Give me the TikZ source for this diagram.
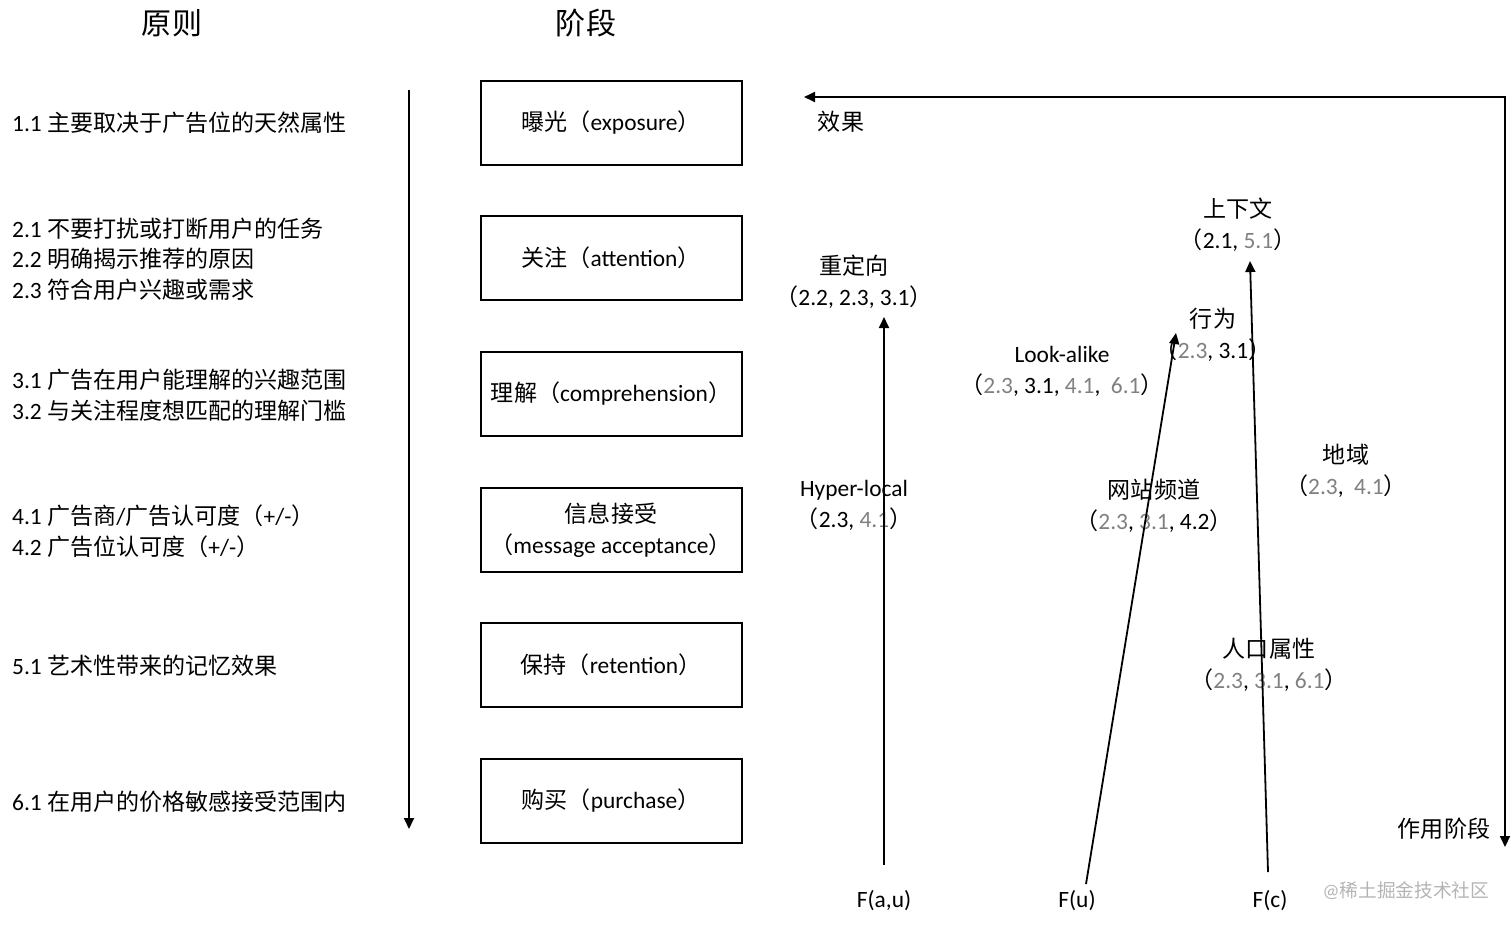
\documentclass[tikz,border=0pt]{standalone}
\usepackage{fontspec}
\setmainfont{Carlito}
\newfontfamily\cjkfont[Scale=0.985]{Noto Sans CJK SC}
\newcommand\zh[1]{{\cjkfont #1}}
\usetikzlibrary{arrows.meta}
\definecolor{gry}{HTML}{808080}
\definecolor{wm}{HTML}{B4B4B4}
\newcommand\g[1]{{\color{gry}#1}}
\begin{document}
\begin{tikzpicture}[x=1pt,y=-1pt,
  every node/.style={inner sep=0pt, font=\fontsize{23.4}{26}\selectfont},
  title/.style={font=\fontsize{30.5}{34}\selectfont},
  rule/.style={anchor=west, align=left, font=\fontsize{23.4}{30.5}\selectfont},
  stage/.style={draw, line width=2pt, minimum width=261pt, minimum height=84pt, align=center, font=\fontsize{23.4}{31}\selectfont},
  lbl/.style={align=center, font=\fontsize{23.4}{31}\selectfont},
  tip/.tip={Triangle[length=11pt,width=10pt]},
  arr/.style={line width=1.8pt, -tip},
]
\useasboundingbox (0,0) rectangle (1512,927);

% titles
\node[title] (tp) at (172,23) {\zh{原则}};
\node[title] (ts) at (586,23) {\zh{阶段}};

% principles
\node[rule] (p1) at (12,123) {1.1 \zh{主要取决于广告位的天然属性}};
\node[rule] (p2) at (12,259) {2.1 \zh{不要打扰或打断用户的任务}\\2.2 \zh{明确揭示推荐的原因}\\2.3 \zh{符合用户兴趣或需求}};
\node[rule] (p3) at (12,395) {3.1 \zh{广告在用户能理解的兴趣范围}\\3.2 \zh{与关注程度想匹配的理解门槛}};
\node[rule] (p4) at (12,531) {4.1 \zh{广告商}/\zh{广告认可度（}+/-\zh{）}\\4.2 \zh{广告位认可度（}+/-\zh{）}};
\node[rule] (p5) at (12,666) {5.1 \zh{艺术性带来的记忆效果}};
\node[rule] (p6) at (12,802) {6.1 \zh{在用户的价格敏感接受范围内}};

\coordinate (la) at (409,90);
\coordinate (lb) at (409,829);
\draw[arr] (la) -- (lb);

% stages
\node[stage] (s1) at (611,123) {\zh{曝光（}exposure\zh{）}};
\node[stage] (s2) at (611,258) {\zh{关注（}attention\zh{）}};
\node[stage] (s3) at (611,394) {\zh{理解（}comprehension\zh{）}};
\node[stage] (s4) at (611,530) {\zh{信息接受}\\\zh{（}message acceptance\zh{）}};
\node[stage] (s5) at (611,665) {\zh{保持（}retention\zh{）}};
\node[stage] (s6) at (611,801) {\zh{购买（}purchase\zh{）}};

% feedback arrow
\coordinate (fa) at (804,97);
\coordinate (fb) at (1505,97);
\coordinate (fc) at (1505,847);
\draw[line width=1.8pt, tip-tip] (fa) -- (fb) -- (fc);
\node (eff) at (841,122) {\zh{效果}};
\node (act) at (1444,829) {\zh{作用阶段}};

% labels
\node[lbl] (rt) at (854,282) {\zh{重定向}\\\zh{（}2.2, 2.3, 3.1\zh{）}};
\node[lbl] (ctx) at (1238,225) {\zh{上下文}\\\zh{（}2.1, \g{5.1}\zh{）}};
\node[lbl] (beh) at (1213,335) {\zh{行为}\\\zh{（}\g{2.3}, 3.1\zh{）}};
\node[lbl] (look) at (1062,371) {Look-alike\\\zh{（}\g{2.3}, 3.1, \g{4.1},\ \ \g{6.1}\zh{）}};
\node[lbl] (hyp) at (854,505) {Hyper-local\\\zh{（}2.3, \g{4.1}\zh{）}};
\node[lbl] (web) at (1154,506) {\zh{网站频道}\\\zh{（}\g{2.3}, \g{3.1}, 4.2\zh{）}};
\node[lbl] (geo) at (1346,471) {\zh{地域}\\\zh{（}\g{2.3},\ \ \g{4.1}\zh{）}};
\node[lbl] (dem) at (1269,665) {\zh{人口属性}\\\zh{（}\g{2.3}, \g{3.1}, \g{6.1}\zh{）}};

% factors
\node (fau) at (884,901) {F(a,u)};
\node (fu) at (1077,901) {F(u)};
\node (fcx) at (1270,901) {F(c)};

\coordinate (a1) at (884,865);
\coordinate (a2) at (884,317);
\coordinate (b1) at (1086,884);
\coordinate (b2) at (1176,333);
\coordinate (c1) at (1268,872);
\coordinate (c2) at (1250,261);
\draw[arr] (a1) -- (a2);
\draw[arr] (b1) -- (b2);
\draw[arr] (c1) -- (c2);

\node[text=wm, font=\fontsize{19}{20}\selectfont] (wmk) at (1406,891) {@\zh{稀土掘金技术社区}};
\end{tikzpicture}
\end{document}
